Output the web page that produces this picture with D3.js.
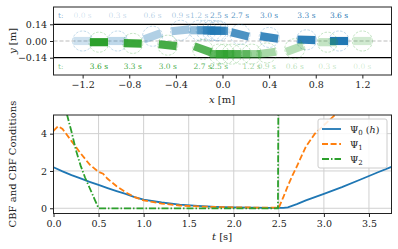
<!DOCTYPE html>
<html>
<head>
<meta charset="utf-8">
<script src="https://cdn.jsdelivr.net/npm/d3@7"></script>
<style>
  body { margin: 0; background: #fff; }
  text { font-family: "DejaVu Serif", "Liberation Serif", serif; }
</style>
</head>
<body>
<div id="chart"></div>
<script>
// robot snapshots (top panel)
var blueT     = [0.0, 0.3, 0.6, 0.9, 1.2, 1.5, 1.8, 2.1, 2.5, 2.7, 3.0, 3.3, 3.6];
var blueX     = [-1.2, -0.9, -0.6, -0.36, -0.2, -0.14, -0.09, -0.05, -0.03, 0.15, 0.4, 0.72, 1.0];
var blueY     = [0.0, 0.0, 0.04, 0.09, 0.09, 0.09, 0.088, 0.086, 0.085, 0.055, 0.03, 0.01, 0.0];
var blueTheta = [0, 0, 20, 6, 0, 0, 0, 0, 0, -14, -8, -2, 0];

var greenT     = [0.0, 0.3, 0.6, 0.9, 1.2, 1.5, 1.8, 2.1, 2.5, 2.7, 3.0, 3.3, 3.6];
var greenX     = [1.2, 0.9, 0.62, 0.38, 0.25, 0.16, 0.08, 0.02, -0.03, -0.17, -0.47, -0.77, -1.06];
var greenY     = [0.0, -0.01, -0.065, -0.1, -0.11, -0.11, -0.11, -0.11, -0.11, -0.07, -0.035, -0.02, -0.01];
var greenTheta = [180, 180, 200, 188, 180, 180, 180, 180, 180, 160, 174, 178, 180];

var labelTimes = [0.0, 0.3, 0.6, 0.9, 1.2, 2.5, 2.7, 3.0, 3.3, 3.6];

var xTicksTop = [-1.2, -0.8, -0.4, 0.0, 0.4, 0.8, 1.2];
var yTicksTop = [-0.14, 0.0, 0.14];

// CBF curves (bottom panel)
var psi0T = [0, 0.1, 0.2, 0.3, 0.4, 0.5, 0.6, 0.7, 0.8, 0.9, 1.0, 1.2, 1.4, 1.6, 1.8, 2.0, 2.2, 2.4, 2.5, 2.55, 2.6, 2.7, 2.8, 2.9, 3.0, 3.2, 3.4, 3.6, 3.75];
var psi0  = [2.2, 1.98, 1.78, 1.6, 1.42, 1.25, 1.08, 0.92, 0.77, 0.6, 0.46, 0.31, 0.2, 0.13, 0.08, 0.05, 0.03, 0.02, 0.02, 0.02, 0.05, 0.22, 0.42, 0.6, 0.77, 1.13, 1.53, 1.93, 2.22];

var psi1T = [0, 0.05, 0.1, 0.2, 0.3, 0.4, 0.5, 0.55, 0.6, 0.7, 0.8, 0.9, 1.0, 1.2, 1.4, 1.6, 1.8, 2.0, 2.2, 2.4, 2.5, 2.55, 2.6, 2.65, 2.7, 2.8, 2.9, 3.0, 3.1, 3.2];
var psi1  = [4.15, 4.4, 4.25, 3.6, 2.95, 2.35, 1.95, 1.85, 1.58, 1.18, 0.86, 0.6, 0.42, 0.25, 0.15, 0.1, 0.07, 0.05, 0.04, 0.03, 0.03, 0.6, 1.2, 1.75, 2.25, 3.3, 4.0, 4.45, 4.9, 5.35];

var psi2T = [0, 0.1, 0.14, 0.2, 0.25, 0.3, 0.35, 0.4, 0.45, 0.5, 1.0, 1.5, 2.0, 2.49, 2.5];
var psi2  = [9, 6.3, 5.2, 4.1, 3.1, 2.3, 1.65, 1.1, 0.55, 0.0, 0.0, 0.0, 0.0, 0.0, 12];

var xTicksBot = [0.0, 0.5, 1.0, 1.5, 2.0, 2.5, 3.0, 3.5];
var yTicksBot = [0, 2, 4];

var seriesNames = ["Ψ", "Ψ", "Ψ"];
var seriesSubs  = ["0", "1", "2"];

var blue = "#1f77b4", orange = "#ff7f0e", green = "#2ca02c";

var W = 398, H = 249;
var svg = d3.select("#chart").append("svg")
    .attr("width", W).attr("height", H);
var defs = svg.append("defs");

// ---------- top panel ----------
var pTop = {left: 53.5, right: 391.5, top: 7, bottom: 75};
var x1 = d3.scaleLinear().domain([-1.45, 1.45]).range([pTop.left, pTop.right]);
var y1 = d3.scaleLinear().domain([-0.285, 0.285]).range([pTop.bottom, pTop.top]);
var pxPerM = x1(1) - x1(0);

defs.append("clipPath").attr("id", "clipTop")
  .append("rect").attr("x", pTop.left).attr("y", pTop.top)
  .attr("width", pTop.right - pTop.left).attr("height", pTop.bottom - pTop.top);

var gTop = svg.append("g").attr("clip-path", "url(#clipTop)");

gTop.append("line")
  .attr("x1", pTop.left).attr("x2", pTop.right)
  .attr("y1", y1(0)).attr("y2", y1(0))
  .attr("stroke", "#bbb").attr("stroke-width", 1).attr("stroke-dasharray", "4,2");
[0.14, -0.14].forEach(function(v) {
  gTop.append("line")
    .attr("x1", pTop.left).attr("x2", pTop.right)
    .attr("y1", y1(v)).attr("y2", y1(v))
    .attr("stroke", "#000").attr("stroke-width", 1.2);
});

function alphaOf(t) { return 0.22 + 0.78 * t / 3.6; }

function drawRobots(ts, xs, ys, th, color) {
  var rW = 0.155 * pxPerM, rH = 0.07 * pxPerM, rad = 0.086 * pxPerM;
  ts.forEach(function(t, i) {
    var g = gTop.append("g")
      .attr("transform", "translate(" + x1(xs[i]) + "," + y1(ys[i]) + ")");
    g.append("circle").attr("r", rad)
      .attr("fill", "none").attr("stroke", color)
      .attr("stroke-opacity", 0.35).attr("stroke-width", 0.8)
      .attr("stroke-dasharray", "2.5,1.5");
    g.append("rect")
      .attr("transform", "rotate(" + (-th[i]) + ")")
      .attr("x", -rW / 2).attr("y", -rH / 2)
      .attr("width", rW).attr("height", rH)
      .attr("fill", color).attr("fill-opacity", alphaOf(t));
  });
}
drawRobots(blueT, blueX, blueY, blueTheta, blue);
drawRobots(greenT, greenX, greenY, greenTheta, green);

function drawLabels(ts, xs, color, yPix) {
  svg.append("text").attr("x", 58).attr("y", yPix)
    .attr("font-size", 7.5).attr("fill", color).attr("fill-opacity", 0.6)
    .text("t:");
  ts.forEach(function(t, i) {
    if (labelTimes.indexOf(t) < 0) return;
    svg.append("text").attr("x", x1(xs[i])).attr("y", yPix)
      .attr("text-anchor", "middle").attr("font-size", 7.5)
      .attr("fill", color).attr("fill-opacity", alphaOf(t))
      .text(t.toFixed(1) + " s");
  });
}
drawLabels(blueT, blueX, blue, 18);
drawLabels(greenT, greenX, green, 68.5);

svg.append("g").attr("transform", "translate(0," + pTop.bottom + ")")
  .call(d3.axisBottom(x1).tickValues(xTicksTop).tickFormat(d3.format(".1f")).tickSize(3.5).tickPadding(3));
svg.append("g").attr("transform", "translate(" + pTop.left + ",0)")
  .call(d3.axisLeft(y1).tickValues(yTicksTop).tickFormat(d3.format(".2f")).tickSize(3.5).tickPadding(3));

svg.append("rect").attr("x", pTop.left).attr("y", pTop.top)
  .attr("width", pTop.right - pTop.left).attr("height", pTop.bottom - pTop.top)
  .attr("fill", "none").attr("stroke", "#222").attr("stroke-width", 1);

// ---------- bottom panel ----------
var pBot = {left: 53.5, right: 391.5, top: 115, bottom: 213.5};
var x2 = d3.scaleLinear().domain([0, 3.75]).range([pBot.left, pBot.right]);
var y2 = d3.scaleLinear().domain([-0.28, 5]).range([pBot.bottom, pBot.top]);

defs.append("clipPath").attr("id", "clipBot")
  .append("rect").attr("x", pBot.left).attr("y", pBot.top)
  .attr("width", pBot.right - pBot.left).attr("height", pBot.bottom - pBot.top);

var grid = svg.append("g");
xTicksBot.forEach(function(v) {
  grid.append("line").attr("x1", x2(v)).attr("x2", x2(v))
    .attr("y1", pBot.top).attr("y2", pBot.bottom)
    .attr("stroke", "#d0d0d0").attr("stroke-width", 1);
});
yTicksBot.forEach(function(v) {
  grid.append("line").attr("x1", pBot.left).attr("x2", pBot.right)
    .attr("y1", y2(v)).attr("y2", y2(v))
    .attr("stroke", "#d0d0d0").attr("stroke-width", 1);
});

var gBot = svg.append("g").attr("clip-path", "url(#clipBot)");
function drawLine(ts, vs, color, dash) {
  var pts = ts.map(function(t, i) { return [t, vs[i]]; });
  gBot.append("path").datum(pts)
    .attr("fill", "none").attr("stroke", color).attr("stroke-width", 1.8)
    .attr("stroke-dasharray", dash)
    .attr("d", d3.line().x(function(d) { return x2(d[0]); }).y(function(d) { return y2(d[1]); }));
}
drawLine(psi0T, psi0, blue, null);
drawLine(psi1T, psi1, orange, "6,2.6");
drawLine(psi2T, psi2, green, "7,2,1.5,2");

svg.append("g").attr("transform", "translate(0," + pBot.bottom + ")")
  .call(d3.axisBottom(x2).tickValues(xTicksBot).tickFormat(d3.format(".1f")).tickSize(3.5).tickPadding(3));
svg.append("g").attr("transform", "translate(" + pBot.left + ",0)")
  .call(d3.axisLeft(y2).tickValues(yTicksBot).tickFormat(d3.format("d")).tickSize(3.5).tickPadding(3));

svg.append("rect").attr("x", pBot.left).attr("y", pBot.top)
  .attr("width", pBot.right - pBot.left).attr("height", pBot.bottom - pBot.top)
  .attr("fill", "none").attr("stroke", "#222").attr("stroke-width", 1);

svg.selectAll(".domain").remove();
svg.selectAll(".tick text").attr("font-size", 9.5).attr("font-family", "DejaVu Serif").attr("fill", "#222");
svg.selectAll(".tick line").attr("stroke", "#222");

// legend
var lg = svg.append("g").attr("transform", "translate(318,119)");
lg.append("rect").attr("width", 69).attr("height", 49).attr("rx", 2)
  .attr("fill", "#fff").attr("fill-opacity", 0.85).attr("stroke", "#ccc");
var lgColors = [blue, orange, green], lgDash = [null, "6,2.6", "7,2,1.5,2"];
seriesNames.forEach(function(n, i) {
  var yy = 10 + i * 15;
  lg.append("line").attr("x1", 4).attr("x2", 23).attr("y1", yy).attr("y2", yy)
    .attr("stroke", lgColors[i]).attr("stroke-width", 1.8).attr("stroke-dasharray", lgDash[i]);
  var t = lg.append("text").attr("x", 32).attr("y", yy + 3.5).attr("font-size", 9.5).attr("fill", "#222");
  t.append("tspan").text(n);
  t.append("tspan").attr("font-size", 7).attr("dy", 2).text(seriesSubs[i]);
  if (i === 0) {
    t.append("tspan").attr("dy", -2).text(" (");
    t.append("tspan").attr("font-style", "italic").text("h");
    t.append("tspan").text(")");
  }
});

// axis labels
function axisLabel(x, y, parts, rot) {
  var t = svg.append("text").attr("text-anchor", "middle").attr("font-size", 10).attr("fill", "#222")
    .attr("transform", "translate(" + x + "," + y + ")" + (rot ? " rotate(-90)" : ""));
  parts.forEach(function(p) {
    t.append("tspan").attr("font-style", p[1] ? "italic" : null).text(p[0]);
  });
}
axisLabel(222, 103, [["x", true], [" [m]", false]]);
axisLabel(16, 41, [["y", true], [" [m]", false]], true);
axisLabel(222, 240, [["t", true], [" [s]", false]]);
axisLabel(16, 164, [["CBF and CBF Conditions", false]], true);
</script>
</body>
</html>
